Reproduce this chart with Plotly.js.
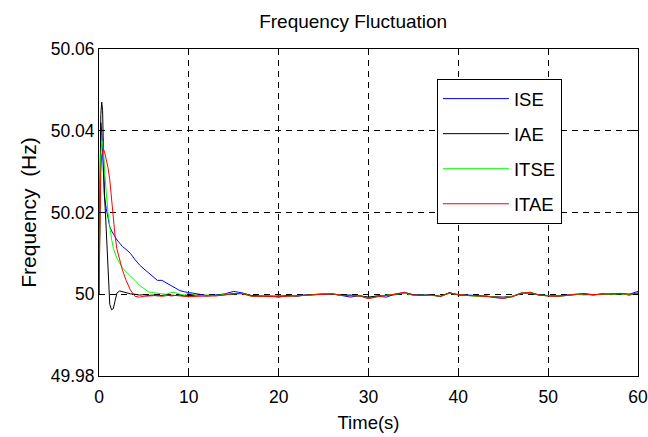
<!DOCTYPE html>
<html>
<head>
<meta charset="utf-8">
<script src="https://cdn.plot.ly/plotly-3.0.1.min.js"></script>
<style>html,body{margin:0;padding:0;background:#fff;}#chart{width:648px;height:437px;}</style>
</head>
<body>
<div id="chart"></div>
<script>
// Transient part (0-10 s)
const timeTransient = [0, 0.1, 0.2, 0.3, 0.4, 0.5, 0.6, 0.8, 1.0, 1.2, 1.4, 1.6, 1.8, 2.0, 2.3, 2.6, 3.0, 3.5, 4.0, 4.5, 5.0, 5.5, 6.0, 6.5, 7.0, 7.5, 8.0, 8.5, 9.0, 9.5, 10.0];
// Steady part (11-60 s)
const timeSteady = [11,12,13,14,15,16,17,18,19,20,21,22,23,24,25,26,27,28,29,30,31,32,33,34,35,36,37,38,39,40,41,42,43,44,45,46,47,48,49,50,51,52,53,54,55,56,57,58,59,60];

const iseTransient  = [50.000, 50.030, 50.042, 50.040, 50.034, 50.028, 50.024, 50.021, 50.019, 50.0165, 50.0155, 50.0147, 50.0140, 50.0133, 50.0125, 50.0117, 50.0110, 50.0100, 50.0085, 50.0072, 50.0062, 50.0052, 50.0042, 50.0034, 50.0034, 50.0028, 50.0020, 50.0014, 50.0009, 50.0006, 50.0004];
const iaeTransient  = [50.000, 50.030, 50.044, 50.047, 50.045, 50.035, 50.025, 50.016, 50.006, 49.9975, 49.9962, 49.9965, 49.9985, 50.0003, 50.0008, 50.0006, 50.0003, 50.0001, 50.0000, 49.9998, 49.9999, 49.9997, 49.9998, 49.9996, 49.9997, 49.9999, 49.9996, 49.9997, 49.9998, 49.9996, 49.9997];
const itseTransient = [50.000, 50.026, 50.034, 50.037, 50.0375, 50.034, 50.030, 50.025, 50.020, 50.0165, 50.0135, 50.0112, 50.0098, 50.0088, 50.0076, 50.0065, 50.0055, 50.0045, 50.0034, 50.0022, 50.0013, 50.0006, 50.0004, 50.0002, 50.0001, 50.0000, 50.0004, 50.0004, 50.0000, 49.9998, 50.0003];
const itaeTransient = [50.000, 50.020, 50.030, 50.034, 50.035, 50.0355, 50.035, 50.033, 50.031, 50.028, 50.023, 50.018, 50.014, 50.011, 50.0085, 50.006, 50.0035, 50.001, 49.9995, 49.9993, 49.9995, 49.9996, 49.9996, 49.9997, 49.9995, 49.9996, 49.9998, 49.9997, 49.9996, 49.9995, 49.9994];

const iseSteady  = [50.0000, 49.9997, 49.9998, 50.0001, 50.0007, 50.0003, 49.9996, 49.9995, 49.9995, 49.9996, 49.9996, 49.9997, 49.9998, 49.9999, 50.0000, 50.0001, 49.9997, 49.9993, 49.9997, 49.9992, 49.9995, 49.9993, 50.0001, 50.0004, 49.9999, 49.9998, 49.9998, 49.9995, 50.0003, 49.9999, 49.9998, 49.9996, 49.9996, 49.9992, 49.9990, 49.9994, 50.0002, 50.0004, 49.9998, 49.9997, 49.9996, 49.9998, 50.0000, 50.0001, 49.9999, 50.0000, 50.0001, 50.0002, 50.0000, 50.0007];
const iaeSteady  = [49.9998, 49.9996, 49.9997, 49.9999, 50.0001, 50.0002, 49.9997, 49.9995, 49.9996, 49.9993, 49.9997, 49.9995, 49.9998, 49.9999, 50.0001, 50.0000, 49.9998, 49.9998, 49.9996, 49.9993, 49.9996, 49.9998, 49.9999, 50.0003, 49.9998, 49.9997, 49.9999, 49.9994, 50.0004, 49.9998, 49.9997, 49.9996, 49.9995, 49.9994, 49.9993, 49.9995, 50.0003, 50.0003, 49.9998, 49.9996, 49.9995, 49.9997, 49.9999, 50.0001, 49.9998, 50.0001, 49.9999, 50.0002, 49.9998, 50.0002];
const itseSteady = [49.9996, 49.9998, 49.9996, 50.0000, 50.0001, 50.0002, 49.9995, 49.9994, 49.9996, 49.9995, 49.9995, 49.9997, 49.9997, 49.9999, 50.0001, 50.0001, 49.9997, 49.9997, 49.9996, 49.9990, 49.9994, 49.9998, 50.0000, 50.0003, 49.9997, 49.9998, 49.9997, 49.9995, 50.0002, 49.9999, 49.9997, 49.9995, 49.9996, 49.9993, 49.9991, 49.9995, 50.0002, 50.0004, 49.9998, 49.9997, 49.9995, 49.9997, 50.0000, 49.9998, 49.9999, 50.0000, 50.0001, 50.0001, 49.9999, 50.0003];
const itaeSteady = [49.9995, 49.9995, 49.9996, 49.9998, 50.0002, 50.0001, 49.9995, 49.9995, 49.9994, 49.9994, 49.9995, 49.9996, 49.9997, 49.9998, 50.0000, 50.0001, 49.9997, 49.9997, 49.9996, 49.9989, 49.9994, 49.9997, 50.0000, 50.0005, 49.9998, 49.9997, 49.9998, 49.9995, 50.0003, 49.9999, 49.9997, 49.9996, 49.9995, 49.9992, 49.9990, 49.9994, 50.0002, 50.0005, 49.9998, 49.9996, 49.9995, 49.9997, 50.0000, 50.0001, 49.9999, 50.0000, 50.0001, 50.0002, 50.0000, 50.0003];

const seriesNames = ['ISE', 'IAE', 'ITSE', 'ITAE'];
const seriesColors = ['rgb(0,0,255)', 'rgb(0,0,0)', 'rgb(0,255,0)', 'rgb(255,0,0)'];
const xTicks = [0, 10, 20, 30, 40, 50, 60];
const yTicks = [49.98, 50, 50.02, 50.04, 50.06];
const yTickLabels = ['49.98', '50', '50.02', '50.04', '50.06'];

const time = timeTransient.concat(timeSteady);
const values = [
  iseTransient.concat(iseSteady),
  iaeTransient.concat(iaeSteady),
  itseTransient.concat(itseSteady),
  itaeTransient.concat(itaeSteady)
];

const traces = seriesNames.map((n, i) => ({
  x: time, y: values[i], type: 'scatter', mode: 'lines', name: n,
  legendgroup: 'g' + i,
  line: {color: seriesColors[i], width: 1}
}));

const fam = 'Arial, "Liberation Sans", sans-serif';
const f = (s) => ({family: fam, size: s, color: '#000'});
const layout = {
  width: 648, height: 437,
  margin: {l: 99, r: 10, t: 49, b: 61},
  paper_bgcolor: '#fff', plot_bgcolor: '#fff',
  font: f(17),
  title: {text: 'Frequency Fluctuation', font: f(19), x: 0.545, xanchor: 'center', y: 0.952, yanchor: 'middle'},
  xaxis: {
    range: [0, 60], tickvals: xTicks, ticktext: xTicks.map(String),
    showline: true, linecolor: '#000', linewidth: 1, mirror: 'ticks',
    ticks: 'inside', ticklen: 5, tickcolor: '#000',
    showgrid: true, gridcolor: '#000', griddash: '6px,5px', gridwidth: 1,
    zeroline: false, tickfont: f(17.5), ticklabelstandoff: 5,
    title: {text: 'Time(s)', font: f(18.5), standoff: 10}
  },
  yaxis: {
    range: [49.98, 50.06], tickvals: yTicks, ticktext: yTickLabels,
    showline: true, linecolor: '#000', linewidth: 1, mirror: 'ticks',
    ticks: 'inside', ticklen: 5, tickcolor: '#000',
    showgrid: true, gridcolor: '#000', griddash: '6px,5px', gridwidth: 1,
    zeroline: false, tickfont: f(17.5),
    title: {text: 'Frequency  (Hz)', font: f(21), standoff: 8}
  },
  showlegend: true,
  legend: {
    x: 0.627, y: 0.908, xanchor: 'left', yanchor: 'top',
    bgcolor: '#fff', bordercolor: '#000', borderwidth: 1,
    font: f(18.5), itemwidth: 66, traceorder: 'grouped', tracegroupgap: 8
  }
};

Plotly.newPlot('chart', traces, layout, {displayModeBar: false, staticPlot: true});
</script>
</body>
</html>
